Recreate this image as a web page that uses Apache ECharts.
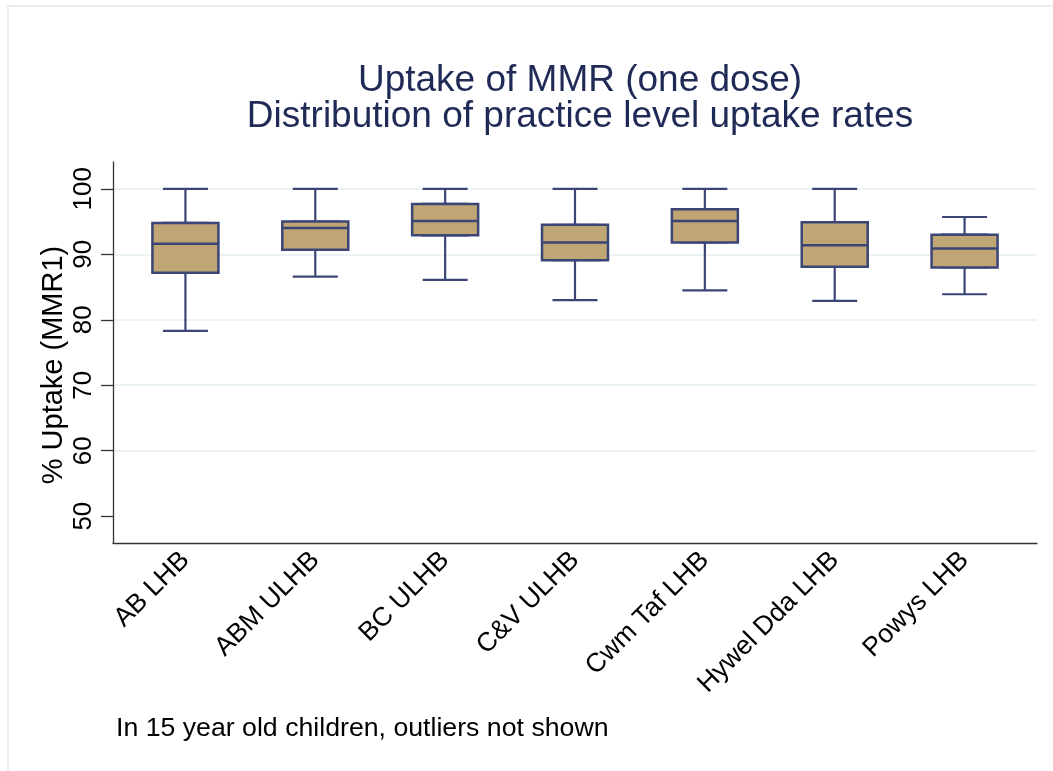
<!DOCTYPE html>
<html>
<head>
<meta charset="utf-8">
<title>Uptake of MMR (one dose)</title>
<script src="https://cdn.jsdelivr.net/npm/echarts@6/dist/echarts.min.js"></script>
<style>
  html, body { margin: 0; padding: 0; background: #fff; }
  #chart { width: 1053px; height: 771px; }
</style>
</head>
<body>
<div id="chart"></div>
<script>
// health boards and the box statistics (% uptake)
var boards = ['AB LHB', 'ABM ULHB', 'BC ULHB', 'C&V ULHB', 'Cwm Taf LHB', 'Hywel Dda LHB', 'Powys LHB'];
var lowWhisker    = [78.3, 86.6, 86.1, 83.0, 84.5, 82.9, 83.9];
var lowerQuartile = [87.2, 90.7, 92.9, 89.1, 91.8, 88.1, 88.0];
var median        = [91.6, 94.0, 95.1, 91.8, 95.1, 91.4, 90.9];
var upperQuartile = [94.8, 95.0, 97.7, 94.5, 96.9, 94.9, 93.0];
var highWhisker   = [100, 100, 100, 100, 100, 100, 95.7];
var yTicks = [50, 60, 70, 80, 90, 100];

var font = '"Liberation Sans", Arial, Helvetica, sans-serif';
var navy = '#3b4677';
var sand = '#bfa674';

// whiskers (narrow caps) and boxes (wider) are two layers
var whiskerData = [], boxData = [];
for (var i = 0; i < boards.length; i++) {
	whiskerData.push([lowWhisker[i], lowerQuartile[i], median[i], upperQuartile[i], highWhisker[i]]);
	boxData.push([lowerQuartile[i], lowerQuartile[i], median[i], upperQuartile[i], upperQuartile[i]]);
}

var myChart = echarts.init(document.getElementById('chart'), null, { renderer: 'canvas' });

myChart.setOption({
	animation: false,
	backgroundColor: '#fff',
	title: {
		text: 'Uptake of MMR (one dose)\nDistribution of practice level uptake rates',
		left: 575,
		top: 58,
		textAlign: 'center',
		textStyle: { fontFamily: font, fontSize: 37, lineHeight: 36, fontWeight: 'normal', color: '#1f2a56' }
	},
	grid: [
		{ left: 113, right: 16, top: 162, bottom: 228 },     // frame: axis lines + gridlines
		{ left: 120.5, right: 23.5, top: 162, bottom: 228 }  // boxes + labels
	],
	xAxis: [
		{
			gridIndex: 0, type: 'category', data: boards,
			axisLine: { lineStyle: { color: '#333', width: 1.3 } },
			axisTick: { show: false },
			axisLabel: { show: false }
		},
		{
			gridIndex: 1, type: 'category', data: boards,
			axisLine: { show: false },
			axisTick: { show: false },
			axisLabel: { interval: 0, rotate: 45, margin: 13, fontSize: 26.5, color: '#000', fontFamily: font }
		},
		{ gridIndex: 1, type: 'category', data: boards, show: false }
	],
	yAxis: [
		{
			gridIndex: 0, type: 'value', min: 45.9, max: 104.1,
			axisLine: { show: true, lineStyle: { color: '#333', width: 1.3 } },
			axisTick: { show: true, length: 12, customValues: yTicks, lineStyle: { color: '#333', width: 1.3 } },
			axisLabel: { customValues: yTicks, rotate: 90, margin: 16, fontSize: 26, color: '#000', fontFamily: font },
			splitLine: { show: true, lineStyle: { color: ['rgba(0,0,0,0)', '#e6eff2', '#e6eff2', '#e6eff2', '#e6eff2', '#e6eff2'], width: 1.5 } }
		},
		{ gridIndex: 1, type: 'value', min: 45.9, max: 104.1, show: false }
	],
	series: [
		{
			name: 'whiskers',
			type: 'boxplot',
			xAxisIndex: 1,
			yAxisIndex: 1,
			boxWidth: [45, 45],
			itemStyle: { color: sand, borderColor: navy, borderWidth: 2.2 },
			data: whiskerData
		},
		{
			name: 'boxes',
			type: 'boxplot',
			xAxisIndex: 2,
			yAxisIndex: 1,
			boxWidth: [66, 66],
			itemStyle: { color: sand, borderColor: navy, borderWidth: 2.5 },
			data: boxData
		}
	],
	graphic: [
		{
			type: 'rect', z: -10, silent: true,
			shape: { x: 8, y: 6, width: 1200, height: 900 },
			style: { fill: 'none', stroke: '#e0eaec', lineWidth: 1.5 }
		},
		{
			type: 'text', x: 54, y: 365, rotation: Math.PI / 2,
			style: { text: '% Uptake (MMR1)', font: '29px ' + font, fill: '#000', align: 'center', verticalAlign: 'middle' }
		},
		{
			type: 'text', x: 116, y: 729,
			style: { text: 'In 15 year old children, outliers not shown', font: '26.7px ' + font, fill: '#000', align: 'left', verticalAlign: 'middle' }
		}
	]
});
</script>
</body>
</html>
